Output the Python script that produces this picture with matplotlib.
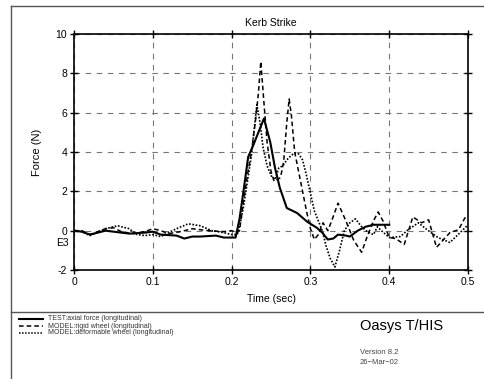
import matplotlib
matplotlib.use('Agg')
import matplotlib.pyplot as plt
from matplotlib.lines import Line2D
import numpy as np

plt.rcParams['font.family'] = ['Liberation Sans', 'DejaVu Sans']
plt.rcParams['axes.unicode_minus'] = False

# TEST: axial force (longitudinal)
t_test = [0, 0.01, 0.02, 0.03, 0.04, 0.05, 0.07, 0.09, 0.1, 0.11, 0.13, 0.14, 0.15,
          0.16, 0.18, 0.19, 0.205, 0.21, 0.215, 0.221, 0.227, 0.234, 0.241, 0.249,
          0.255, 0.261, 0.27, 0.283, 0.296, 0.308, 0.315, 0.322, 0.329, 0.335, 0.345,
          0.35, 0.36, 0.37, 0.38, 0.4]
f_test = [0, -0.05, -0.2, -0.1, 0, -0.05, -0.15, -0.1, -0.05, -0.2, -0.25, -0.4, -0.3,
          -0.3, -0.25, -0.35, -0.35, 0.6, 2.0, 3.75, 4.3, 5.0, 5.7, 4.5,
          3.2, 2.2, 1.15, 0.9, 0.45, 0.15, -0.1, -0.45, -0.4, -0.2, -0.25,
          -0.3, 0.0, 0.2, 0.3, 0.3]

# MODEL: rigid wheel (longitudinal)
t_rigid = [0, 0.01, 0.02, 0.04, 0.05, 0.06, 0.075, 0.09, 0.1, 0.11, 0.12, 0.135, 0.15,
           0.17, 0.19, 0.2, 0.207, 0.21, 0.215, 0.22, 0.225, 0.23, 0.234, 0.237, 0.241,
           0.245, 0.25, 0.254, 0.258, 0.262, 0.266, 0.27, 0.273, 0.276, 0.28, 0.285,
           0.29, 0.295, 0.3, 0.305, 0.31, 0.316, 0.322, 0.327, 0.335, 0.345, 0.355,
           0.365, 0.372, 0.38, 0.386, 0.392, 0.4, 0.408, 0.419, 0.43, 0.441, 0.45,
           0.46, 0.477, 0.488, 0.496, 0.5]
f_rigid = [0, 0, -0.2, 0.1, 0.15, -0.05, -0.15, -0.05, 0.1, 0, -0.15, -0.05, 0.1,
           0, -0.05, 0.0, -0.1, 0.0, 1.5, 2.8, 4.0, 5.5, 7.0, 8.6, 6.5,
           4.5, 3.0, 2.5, 2.6, 2.7, 3.5, 5.5, 6.7, 5.8, 4.0, 3.0,
           2.0, 1.0, 0.1, -0.45, -0.2, 0.4, 0.0, 0.5, 1.4, 0.5, -0.5,
           -1.1, -0.3, 0.5, 0.95, 0.5, -0.35, -0.4, -0.7, 0.7, 0.4, 0.55,
           -0.85, -0.1, 0.05, 0.65, 0.6]

# MODEL: deformable wheel (longitudinal)
t_deform = [0, 0.01, 0.02, 0.04, 0.055, 0.07, 0.08, 0.09, 0.1, 0.11, 0.13, 0.145, 0.16,
            0.175, 0.19, 0.2, 0.207, 0.21, 0.215, 0.22, 0.225, 0.229, 0.232, 0.236,
            0.24, 0.245, 0.25, 0.255, 0.26, 0.265, 0.27, 0.275, 0.28, 0.285, 0.29,
            0.295, 0.3, 0.305, 0.31, 0.315, 0.32, 0.325, 0.331, 0.337, 0.343, 0.35,
            0.357, 0.365, 0.372, 0.38, 0.385, 0.39, 0.4, 0.414, 0.424, 0.437, 0.448,
            0.462, 0.477, 0.49, 0.5]
f_deform = [0, -0.05, -0.25, 0.1, 0.25, 0.1, -0.2, -0.25, -0.2, -0.3, 0.1, 0.35, 0.25,
            0, -0.1, -0.2, -0.2, 0.2, 1.2, 2.5, 3.8, 5.3, 6.4, 5.5,
            4.2, 3.3, 2.8, 2.6, 3.2, 3.3, 3.6, 3.8, 3.95, 3.9, 3.6,
            2.8, 1.9, 1.0, 0.5, 0.0, -0.8, -1.4, -1.85, -1.0, 0.0, 0.4,
            0.6, 0.2, -0.05, -0.2, 0.2, 0.0, -0.35, -0.3, 0.05, 0.4, 0.05,
            -0.35, -0.6, -0.1, 0.3]

labels = ['TEST:axial force (longitudinal)',
          'MODEL:rigid wheel (longitudinal)',
          'MODEL:deformable wheel (longitudinal)']

fig = plt.figure(figsize=(4.84, 3.79), dpi=100)
ax = fig.add_axes([0.153, 0.2876, 0.814, 0.6227])

dash_rigid = (0, (3, 2))
dot_deform = (0, (1, 1))

ax.plot(t_test, f_test, color='black', lw=1.5, solid_joinstyle='round')
ax.plot(t_rigid, f_rigid, color='black', lw=1.1, linestyle=dash_rigid)
ax.plot(t_deform, f_deform, color='black', lw=1.2, linestyle=dot_deform)

ax.set_xlim(0, 0.5)
ax.set_ylim(-2, 10)
ax.set_xticks([0, 0.1, 0.2, 0.3, 0.4, 0.5])
ax.set_xticklabels(['0', '0.1', '0.2', '0.3', '0.4', '0.5'])
ax.set_yticks([-2, 0, 2, 4, 6, 8, 10])
ax.grid(True, color='#777777', linestyle=(0, (5, 5)), lw=0.8)
ax.tick_params(direction='inout', length=6, width=1, labelsize=7.5,
               top=True, right=True, pad=2)
for s in ax.spines.values():
    s.set_linewidth(1.2)

ax.set_xlabel('Time (sec)', fontsize=7.5, labelpad=5)
ax.set_ylabel('Force (N)', fontsize=8, labelpad=10)
ax.set_title('Kerb Strike', fontsize=7.5, pad=6)
fig.text(0.130, 0.359, 'E3', fontsize=7.5, ha='center', va='center')

# page frame
fc = '#555555'
fig.add_artist(Line2D([11 / 484, 11 / 484], [0, 1 - 6 / 379], color=fc, lw=1))
fig.add_artist(Line2D([11 / 484, 1], [1 - 6 / 379, 1 - 6 / 379], color=fc, lw=1))
fig.add_artist(Line2D([11 / 484, 1], [1 - 312 / 379, 1 - 312 / 379], color=fc, lw=1))

# legend block
styles = [dict(lw=1.5), dict(lw=1.1, linestyle=dash_rigid), dict(lw=1.1, linestyle=dot_deform)]
rows = [319, 326, 333]
for lab, st, yp in zip(labels, styles, rows):
    y = 1 - yp / 379
    fig.add_artist(Line2D([19 / 484, 43 / 484], [y, y], color='black', **st))
    fig.text(48 / 484, y, lab, fontsize=5, va='center', ha='left', color='#333333')

fig.text(360 / 484, 1 - 326 / 379, 'Oasys T/HIS', fontsize=10.5, va='center', ha='left')
fig.text(360 / 484, 1 - 352 / 379, 'Version 8.2', fontsize=5.5, va='center', ha='left', color='#444444')
fig.text(360 / 484, 1 - 362 / 379, '26\u2212Mar\u221202', fontsize=5.5, va='center', ha='left', color='#444444')

fig.savefig('out.png', dpi=100)
